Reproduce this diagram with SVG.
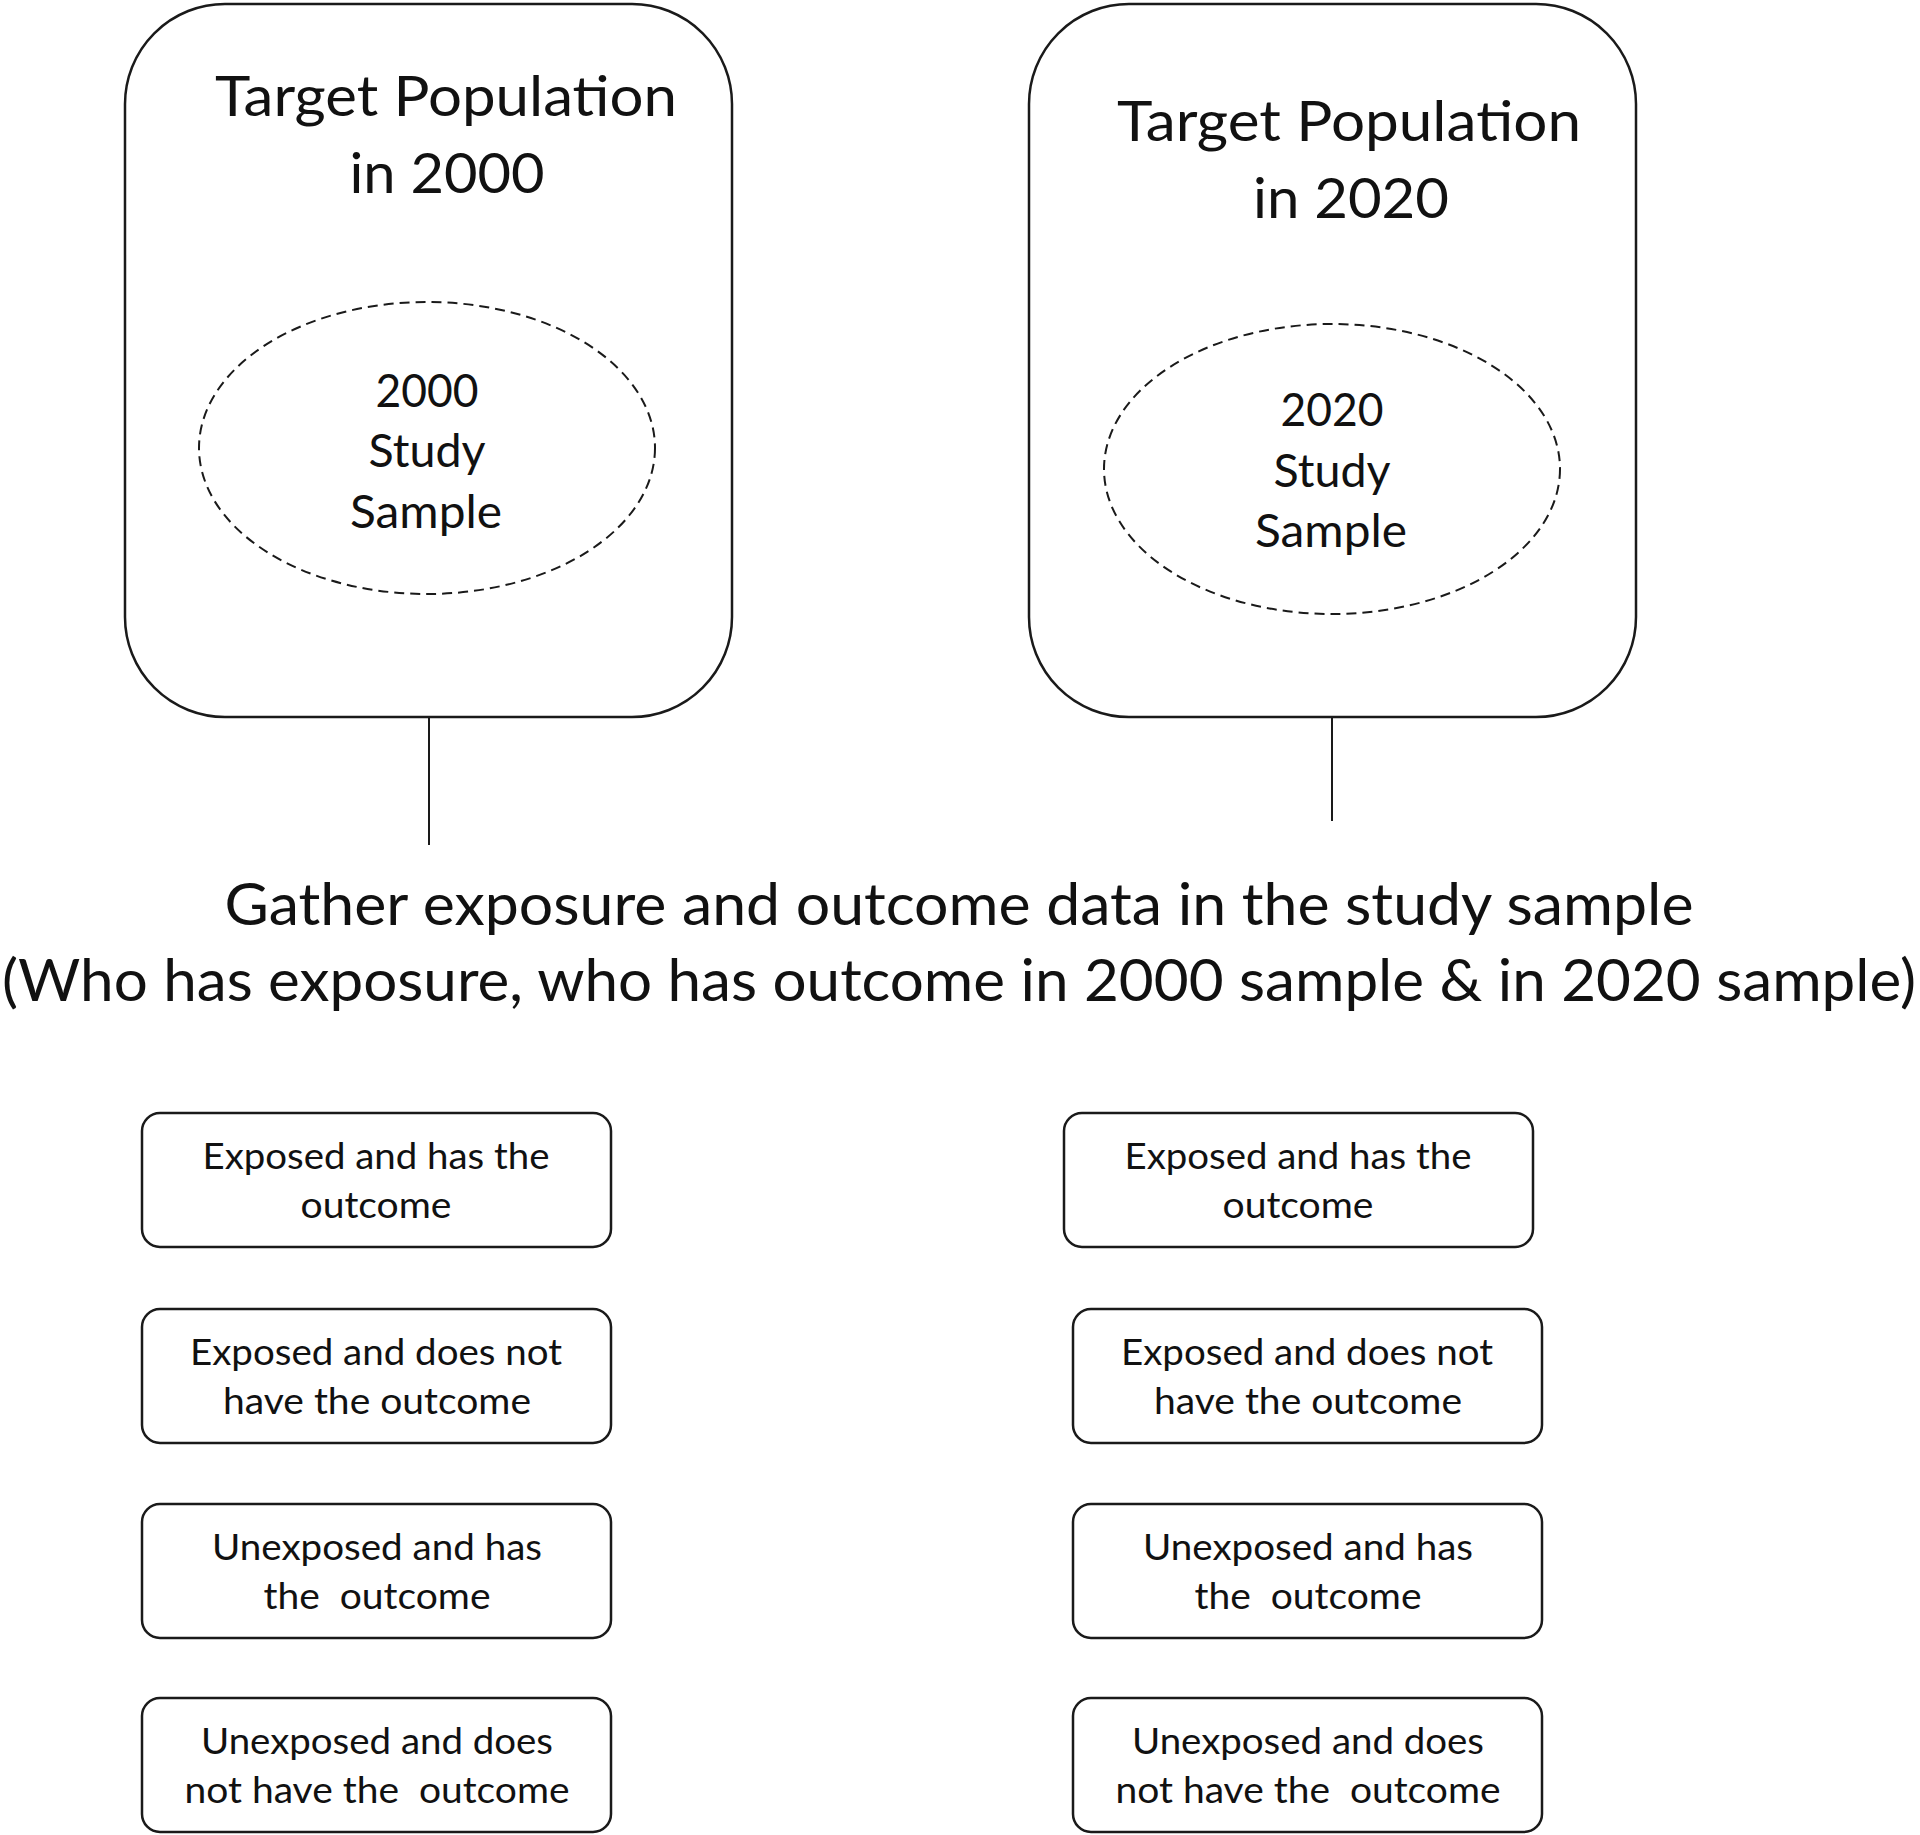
<svg xmlns="http://www.w3.org/2000/svg" width="1920" height="1835" viewBox="0 0 1920 1835">
<style>
.big{fill:#fff;stroke:#1a1a1a;stroke-width:2.5}
.ell{fill:none;stroke:#1a1a1a;stroke-width:2;stroke-dasharray:10 6}
.sm{fill:#fff;stroke:#1a1a1a;stroke-width:2.5}
.conn{stroke:#1a1a1a;stroke-width:2;fill:none}
text{font-family:Lato,"Open Sans","Liberation Sans",sans-serif;fill:#111;text-anchor:middle;white-space:pre}
.t1{font-size:56px}
.t2{font-size:46px}
.t3{font-size:59px}
.t4{font-size:36px}
</style>
<rect width="1920" height="1835" fill="#fff"/>
<g id="connectors">
<line class="conn" x1="429" y1="718" x2="429" y2="845"/>
<line class="conn" x1="1332" y1="718" x2="1332" y2="821"/>
</g>
<g id="pop2000">
<rect class="big" x="125" y="4" width="607" height="713" rx="100" ry="100"/>
<text class="t1" x="446" y="116" textLength="462" lengthAdjust="spacingAndGlyphs">Target Population</text>
<text class="t1" x="447" y="193" textLength="195" lengthAdjust="spacingAndGlyphs">in 2000</text>
</g>
<g id="sample2000">
<ellipse class="ell" cx="427" cy="448" rx="228" ry="146"/>
<text class="t2" x="427" y="407" textLength="103" lengthAdjust="spacingAndGlyphs">2000</text>
<text class="t2" x="427" y="467" textLength="117" lengthAdjust="spacingAndGlyphs">Study</text>
<text class="t2" x="426" y="528" textLength="152" lengthAdjust="spacingAndGlyphs">Sample</text>
</g>
<g id="pop2020">
<rect class="big" x="1029" y="4" width="607" height="713" rx="100" ry="100"/>
<text class="t1" x="1349" y="141" textLength="464" lengthAdjust="spacingAndGlyphs">Target Population</text>
<text class="t1" x="1351" y="218" textLength="196" lengthAdjust="spacingAndGlyphs">in 2020</text>
</g>
<g id="sample2020">
<ellipse class="ell" cx="1332" cy="469" rx="228" ry="145"/>
<text class="t2" x="1332" y="426" textLength="103" lengthAdjust="spacingAndGlyphs">2020</text>
<text class="t2" x="1332" y="487" textLength="117" lengthAdjust="spacingAndGlyphs">Study</text>
<text class="t2" x="1331" y="547" textLength="152" lengthAdjust="spacingAndGlyphs">Sample</text>
</g>
<g id="heading">
<text class="t3" x="959" y="925" textLength="1469" lengthAdjust="spacingAndGlyphs">Gather exposure and outcome data in the study sample</text>
<text class="t3" x="959" y="1001" textLength="1914" lengthAdjust="spacingAndGlyphs">(Who has exposure, who has outcome in 2000 sample &amp; in 2020 sample)</text>
</g>
<g id="l1">
<rect class="sm" x="142" y="1113" width="469" height="134" rx="18" ry="18"/>
<text class="t4" x="376" y="1169" textLength="347" lengthAdjust="spacingAndGlyphs">Exposed and has the</text>
<text class="t4" x="376" y="1218" textLength="151" lengthAdjust="spacingAndGlyphs">outcome</text>
</g>
<g id="l2">
<rect class="sm" x="142" y="1309" width="469" height="134" rx="18" ry="18"/>
<text class="t4" x="376" y="1365" textLength="372" lengthAdjust="spacingAndGlyphs">Exposed and does not</text>
<text class="t4" x="377" y="1414" textLength="308" lengthAdjust="spacingAndGlyphs">have the outcome</text>
</g>
<g id="l3">
<rect class="sm" x="142" y="1504" width="469" height="134" rx="18" ry="18"/>
<text class="t4" x="377" y="1560" textLength="330" lengthAdjust="spacingAndGlyphs">Unexposed and has</text>
<text class="t4" x="377" y="1609" textLength="227" lengthAdjust="spacingAndGlyphs" xml:space="preserve">the  outcome</text>
</g>
<g id="l4">
<rect class="sm" x="142" y="1698" width="469" height="134" rx="18" ry="18"/>
<text class="t4" x="377" y="1754" textLength="352" lengthAdjust="spacingAndGlyphs">Unexposed and does</text>
<text class="t4" x="377" y="1803" textLength="385" lengthAdjust="spacingAndGlyphs" xml:space="preserve">not have the  outcome</text>
</g>
<g id="r1">
<rect class="sm" x="1064" y="1113" width="469" height="134" rx="18" ry="18"/>
<text class="t4" x="1298" y="1169" textLength="347" lengthAdjust="spacingAndGlyphs">Exposed and has the</text>
<text class="t4" x="1298" y="1218" textLength="151" lengthAdjust="spacingAndGlyphs">outcome</text>
</g>
<g id="r2">
<rect class="sm" x="1073" y="1309" width="469" height="134" rx="18" ry="18"/>
<text class="t4" x="1307" y="1365" textLength="372" lengthAdjust="spacingAndGlyphs">Exposed and does not</text>
<text class="t4" x="1308" y="1414" textLength="308" lengthAdjust="spacingAndGlyphs">have the outcome</text>
</g>
<g id="r3">
<rect class="sm" x="1073" y="1504" width="469" height="134" rx="18" ry="18"/>
<text class="t4" x="1308" y="1560" textLength="330" lengthAdjust="spacingAndGlyphs">Unexposed and has</text>
<text class="t4" x="1308" y="1609" textLength="227" lengthAdjust="spacingAndGlyphs" xml:space="preserve">the  outcome</text>
</g>
<g id="r4">
<rect class="sm" x="1073" y="1698" width="469" height="134" rx="18" ry="18"/>
<text class="t4" x="1308" y="1754" textLength="352" lengthAdjust="spacingAndGlyphs">Unexposed and does</text>
<text class="t4" x="1308" y="1803" textLength="385" lengthAdjust="spacingAndGlyphs" xml:space="preserve">not have the  outcome</text>
</g>
</svg>
